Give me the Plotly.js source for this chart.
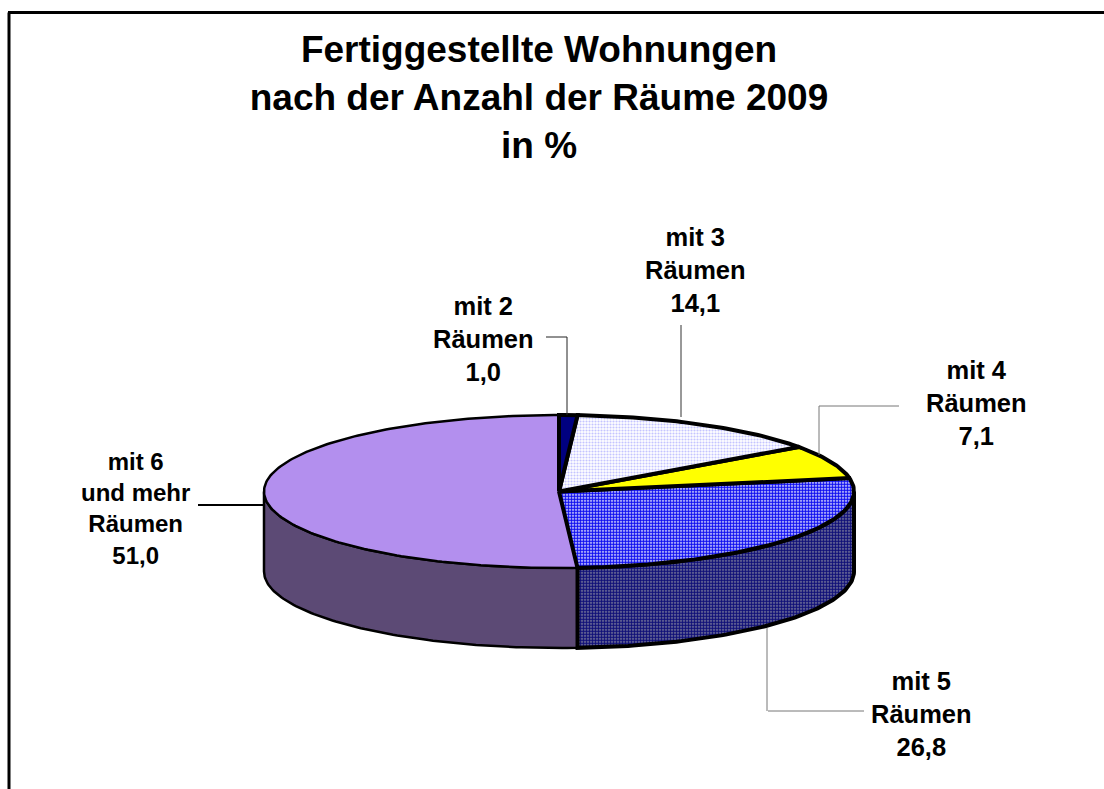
<!DOCTYPE html>
<html>
<head>
<meta charset="utf-8">
<script src="https://cdn.plot.ly/plotly-3.0.1.min.js"></script>
<style>html,body{margin:0;padding:0;background:#fff}#c{width:1104px;height:789px}</style>
</head>
<body>
<div id="c"></div>
<script>
const categories = ["mit 2<br>Räumen", "mit 3<br>Räumen", "mit 4<br>Räumen", "mit 5<br>Räumen", "mit 6<br>und mehr<br>Räumen"];
const values = [1.0, 14.1, 7.1, 26.8, 51.0];
const valueLabels = ["1,0", "14,1", "7,1", "26,8", "51,0"];
const titleText = "Fertiggestellte Wohnungen<br>nach der Anzahl der Räume 2009<br>in %";

// pie geometry (axis units equal pixels)
const CX = 559, CY = 491.5, RX = 295, RY = 76.5, DEPTH = 80;
const FONT = '"Liberation Sans", Arial, sans-serif';

const topStyles = [
  {fillcolor: '#000080', line: 4},
  {fillcolor: '#E6E6FF', pattern: {shape: '.', size: 3, solidity: 0.4, fgcolor: '#C4C4FF', bgcolor: '#FFFFFF'}, line: 4},
  {fillcolor: '#FFFF00', line: 4},
  {fillcolor: '#6060F0', pattern: {shape: '.', size: 3, solidity: 0.7, fgcolor: '#1010F0', bgcolor: '#FFFFFF'}, line: 4},
  {fillcolor: '#B38FEE', line: 2.5}
];
const sideStyles = [null, null, null,
  {fillcolor: '#3A3A8C', pattern: {shape: '.', size: 3, solidity: 0.7, fgcolor: '#101078', bgcolor: '#8A8AA0'}, line: 4},
  {fillcolor: '#5C4A75', line: 2.5}
];

const rad = d => d * Math.PI / 180;
const rimX = d => CX + RX * Math.sin(rad(d));
const rimY = (d, off) => CY - RY * Math.cos(rad(d)) + off;

function arc(a, b, off) {
  const xs = [], ys = [];
  const n = Math.max(2, Math.ceil(Math.abs(b - a)));
  for (let i = 0; i <= n; i++) {
    const d = a + (b - a) * i / n;
    xs.push(rimX(d)); ys.push(rimY(d, off));
  }
  return [xs, ys];
}

function makeTrace(xs, ys, st, name) {
  const t = {
    type: 'scatter', mode: 'lines', x: xs, y: ys, fill: 'toself',
    fillcolor: st.fillcolor, line: {color: '#000', width: st.line, shape: 'linear'},
    name: name, hoverinfo: 'name', showlegend: false
  };
  if (st.pattern) t.fillpattern = st.pattern;
  return t;
}

const total = values.reduce((s, v) => s + v, 0);
const starts = [];
values.reduce((acc, v, i) => { starts[i] = acc; return acc + v; }, 0);
const angA = starts.map(s => s / total * 360);
const angB = values.map((v, i) => (starts[i] + v) / total * 360);

const sideTraces = [], topTraces = [];
values.forEach((v, i) => {
  const a = Math.max(angA[i], 90), b = Math.min(angB[i], 270);
  if (b > a && sideStyles[i]) {
    const [x1, y1] = arc(a, b, 0), [x2, y2] = arc(b, a, DEPTH);
    sideTraces.push(makeTrace(x1.concat(x2, [x1[0]]), y1.concat(y2, [y1[0]]), sideStyles[i], categories[i].replace(/<br>/g, ' ')));
  }
  const [xs, ys] = arc(angA[i], angB[i], 0);
  topTraces.push(makeTrace([CX].concat(xs, [CX]), [CY].concat(ys, [CY]), topStyles[i], categories[i].replace(/<br>/g, ' ')));
});
// paint order: big thin-lined slice first, heavy-lined slices above it
const traces = sideTraces.reverse().concat(topTraces.slice().reverse());

const labelPos = [[483, 339], [695, 270], [976, 403], [921, 714], [135, 508]];
const annotations = categories.map((c, i) => ({
  x: labelPos[i][0], y: labelPos[i][1], xref: 'x', yref: 'y', showarrow: false,
  text: c + '<br>' + valueLabels[i], align: 'center', xanchor: 'center', yanchor: 'middle',
  font: {family: FONT, size: i === 4 ? 24 : 25.5, color: '#000', weight: 700}
}));

const seg = (x0, y0, x1, y1, color, width) => ({type: 'line', xref: 'x', yref: 'y', x0, y0, x1, y1, line: {color, width}});
const shapes = [
  seg(9, 12.5, 9, 789, '#000', 3),
  seg(8, 12.5, 1104, 12.5, '#000', 3),
  seg(546, 337, 567, 337, '#222', 1), seg(567, 337, 567, 415, '#222', 1),
  seg(681, 325, 681, 417, '#333', 1),
  seg(899, 406, 819, 406, '#777', 1), seg(819, 406, 819, 455, '#777', 1),
  seg(767, 628, 767, 711, '#777', 1), seg(768, 711, 864, 711, '#777', 1),
  seg(198, 505, 263, 505, '#000', 2)
];

const hidden = {visible: false, fixedrange: true, showgrid: false, zeroline: false};
const layout = {
  width: 1104, height: 789, margin: {l: 0, r: 0, t: 0, b: 0},
  paper_bgcolor: '#fff', plot_bgcolor: '#fff', showlegend: false,
  xaxis: Object.assign({range: [0, 1104]}, hidden),
  yaxis: Object.assign({range: [789, 0]}, hidden),
  title: {text: titleText, x: 539 / 1104, xanchor: 'center', y: 1 - 61.5 / 789, yanchor: 'top', yref: 'container',
    font: {family: FONT, size: 37, color: '#000', weight: 700}},
  annotations, shapes
};
Plotly.newPlot('c', traces, layout, {displayModeBar: false, staticPlot: true});
</script>
</body>
</html>
